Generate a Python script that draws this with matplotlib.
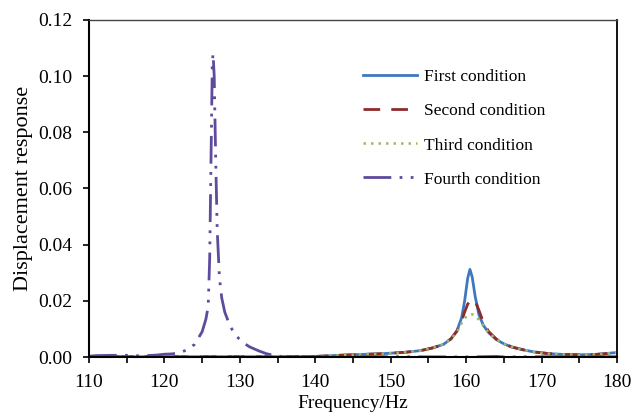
import matplotlib
matplotlib.use("Agg")
import matplotlib.pyplot as plt
from matplotlib.ticker import MultipleLocator, FormatStrFormatter

# ---- data ----
freq_a = [110, 115, 120, 125, 130, 135, 140, 143, 146, 149, 152, 154, 155.5, 157, 158,
          158.8, 159.4, 159.8, 160.2, 160.5, 160.8, 161.2, 161.7, 162.3, 163, 164,
          165, 166, 167.5, 169, 171, 173, 175, 177, 178.5, 179.5, 180]
first = [0.0001, 0.0001, 0.0001, 0.0001, 0.0001, 0.0001, 0.0002, 0.0006, 0.0009, 0.0012,
         0.0017, 0.0023, 0.0032, 0.0045, 0.0065, 0.0095, 0.0140, 0.0200, 0.0280, 0.0312,
         0.0285, 0.0215, 0.0150, 0.0112, 0.0086, 0.0062, 0.0047, 0.0036, 0.0026, 0.0018,
         0.0012, 0.0009, 0.0008, 0.0009, 0.0012, 0.0015, 0.0015]
second = [0.0001, 0.0001, 0.0001, 0.0001, 0.0001, 0.0001, 0.0002, 0.0006, 0.0009, 0.0012,
          0.0017, 0.0023, 0.0032, 0.0045, 0.0065, 0.0093, 0.0128, 0.0160, 0.0188, 0.0200,
          0.0206, 0.0200, 0.0166, 0.0122, 0.0090, 0.0064, 0.0048, 0.0036, 0.0026, 0.0018,
          0.0012, 0.0009, 0.0008, 0.0009, 0.0012, 0.0015, 0.0015]
third = [0.0001, 0.0001, 0.0001, 0.0001, 0.0001, 0.0001, 0.0002, 0.0006, 0.0009, 0.0012,
         0.0017, 0.0023, 0.0032, 0.0045, 0.0064, 0.0090, 0.0120, 0.0138, 0.0148, 0.0151,
         0.0152, 0.0147, 0.0132, 0.0110, 0.0086, 0.0063, 0.0047, 0.0036, 0.0026, 0.0018,
         0.0012, 0.0009, 0.0008, 0.0009, 0.0012, 0.0015, 0.0015]

freq_d = [110, 111, 113, 115, 117, 119, 120, 121, 122, 123, 124, 125, 125.5, 125.8,
          126.0, 126.2, 126.35, 126.45, 126.6, 126.8, 127.0, 127.3, 127.6, 128, 128.7,
          129.5, 130.5, 131.3, 132.5, 133.5, 134.5, 135.5, 137, 140, 150, 160, 164, 165,
          170, 180]
fourth = [0.0003, 0.0005, 0.0006, 0.0006, 0.0004, 0.0007, 0.0010, 0.0011, 0.0016, 0.0025,
          0.0045, 0.0090, 0.0135, 0.0180, 0.0350, 0.0750, 0.1050, 0.1080, 0.1000, 0.0700,
          0.0450, 0.0280, 0.0210, 0.0160, 0.0110, 0.0075, 0.0050, 0.0036, 0.0022, 0.0012,
          0.0006, 0.0002, 0.0001, 0.0001, 0.0001, 0.0000, 0.0002, 0.0000, 0.0001, 0.0001]

labels = ["First condition", "Second condition", "Third condition", "Fourth condition"]
x_ticks = [110, 120, 130, 140, 150, 160, 170, 180]
y_ticks = [0.00, 0.02, 0.04, 0.06, 0.08, 0.10, 0.12]

plt.rcParams['font.family'] = ['Liberation Serif', 'DejaVu Serif']

fig = plt.figure(figsize=(6.32, 4.18), dpi=100)
ax = fig.add_axes([0.1408, 0.1459, 0.8355, 0.8063])

ax.plot(freq_a, first, color='#3F78C0', lw=2.0, ls='-', label=labels[0])
ax.plot(freq_a, second, color='#8E2B2B', lw=2.0, ls=(0, (6, 4)), label=labels[1])
ax.plot(freq_a, third, color='#A3B865', lw=1.8, ls=(0, (1, 2)), label=labels[2])
ax.plot(freq_d, fourth, color='#5E4B9C', lw=2.0, ls=(0, (10, 3, 1, 3, 1, 3)), label=labels[3])

ax.set_xlim(110, 180)
ax.set_ylim(0, 0.12)
ax.set_xticks(x_ticks)
ax.set_yticks(y_ticks)
ax.xaxis.set_minor_locator(MultipleLocator(5))
ax.yaxis.set_major_formatter(FormatStrFormatter('%.2f'))
ax.tick_params(axis='both', which='both', direction='out', length=4, width=1.2,
               labelsize=14, color='black')
ax.tick_params(axis='x', pad=8)
ax.tick_params(axis='y', pad=8)

for s in ['left', 'bottom']:
    ax.spines[s].set_linewidth(1.5)
    ax.spines[s].set_color('black')
ax.spines['right'].set_linewidth(1.3)
ax.spines['right'].set_color('black')
ax.spines['top'].set_linewidth(1.0)
ax.spines['top'].set_color('#444444')

ax.set_xlabel("Frequency/Hz", fontsize=14, labelpad=3)
ax.set_ylabel("Displacement response", fontsize=16, labelpad=4)

leg = ax.legend(loc='upper left', bbox_to_anchor=(0.49, 0.90), frameon=False,
                fontsize=12.5, handlelength=3.1, handletextpad=0.4, labelspacing=1.03)

fig.savefig("out.png", dpi=100)
